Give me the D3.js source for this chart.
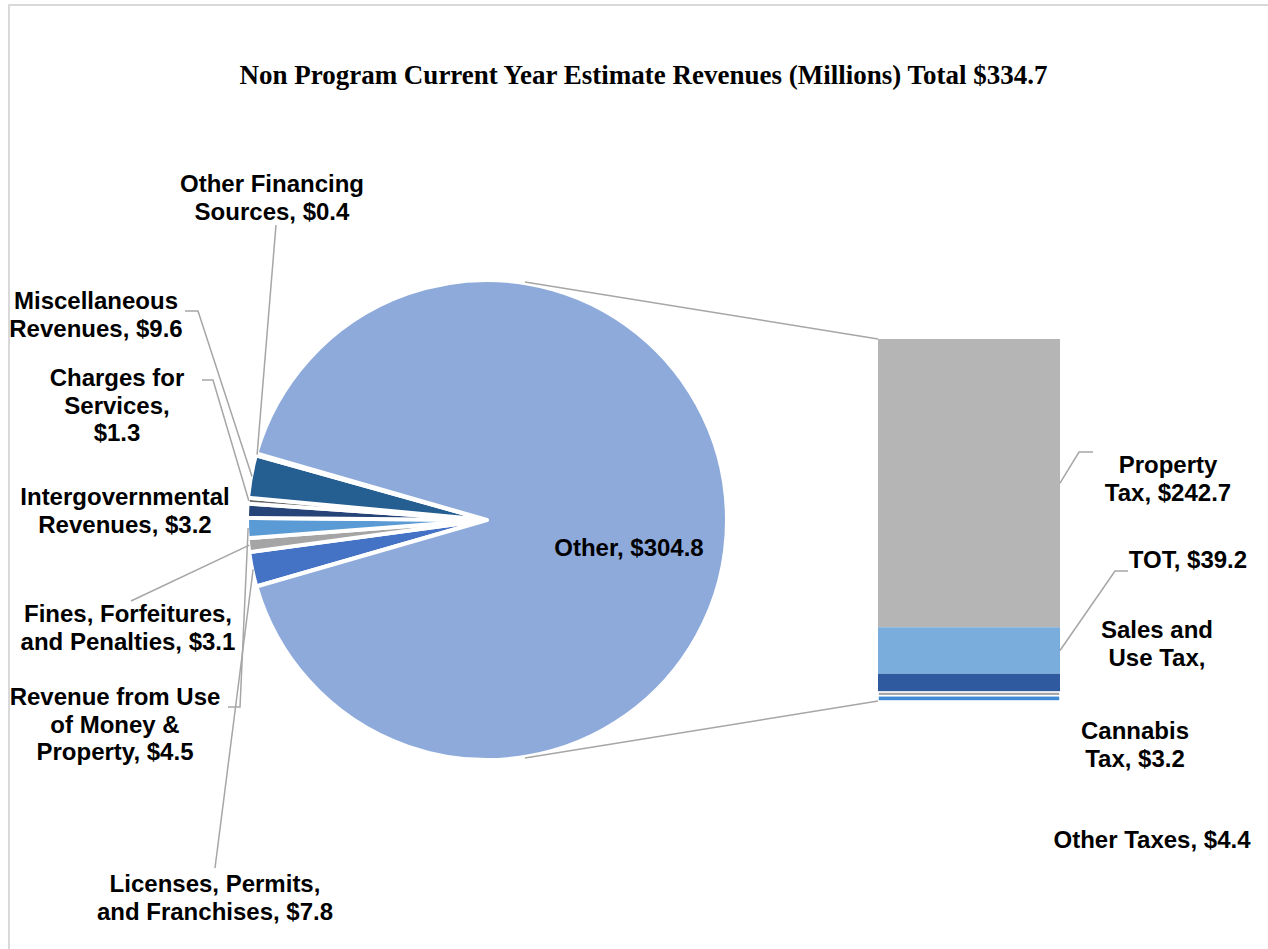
<!DOCTYPE html>
<html>
<head>
<meta charset="utf-8">
<script src="https://cdn.jsdelivr.net/npm/d3@7"></script>
<style>
  html, body { margin: 0; padding: 0; background: #fff; }
  svg { display: block; }
  .lbl { font-family: "Liberation Sans", Arial, sans-serif; font-weight: bold; font-size: 24px; fill: #000; }
  .title { font-family: "Liberation Serif", "Times New Roman", serif; font-weight: bold; font-size: 27px; fill: #000; }
</style>
</head>
<body>
<script>
// Non-program revenues, millions of dollars
const pieCategories = ["Licenses, Permits, and Franchises", "Fines, Forfeitures, and Penalties",
  "Revenue from Use of Money & Property", "Intergovernmental Revenues", "Charges for Services",
  "Miscellaneous Revenues", "Other Financing Sources"];
const pieValues = [7.8, 3.1, 4.5, 3.2, 1.3, 9.6, 0.4];
const pieColors = ["#4472c4", "#a5a5a5", "#5b9bd5", "#264478", "#636363", "#255e91", "#7f6000"];

// The "Other" slice is broken out into taxes in the stacked bar
const otherLabel = "Other";
const otherColor = "#8eaadb";
const barCategories = ["Property Tax", "TOT", "Sales and Use Tax", "Cannabis Tax", "Other Taxes"];
const barValues = [242.7, 39.2, 15.3, 3.2, 4.4];
const barColors = ["#b5b5b5", "#7aaddc", "#2f5a9f", "#a5a5a5", "#3e8ad6"];

const titleText = "Non Program Current Year Estimate Revenues (Millions) Total $334.7";

// Label text lines, in the same order as the categories
const pieLabelLines = [
  ["Licenses, Permits,", "and Franchises, $7.8"],
  ["Fines, Forfeitures,", "and Penalties, $3.1"],
  ["Revenue from Use", "of Money &", "Property, $4.5"],
  ["Intergovernmental", "Revenues, $3.2"],
  ["Charges for", "Services,", "$1.3"],
  ["Miscellaneous", "Revenues, $9.6"],
  ["Other Financing", "Sources, $0.4"]
];
const barLabelLines = [
  ["Property", "Tax, $242.7"],
  ["TOT, $39.2"],
  ["Sales and", "Use Tax,"],
  ["Cannabis", "Tax, $3.2"],
  ["Other Taxes, $4.4"]
];

// ---- layout ----
const W = 1268, H = 949;
const cx = 487, cy = 520, R = 240;
const barX = 878, barW = 182, barTop = 339, barBottom = 701;
const lineH = 27.5;

// label anchor (center of first line) and leader-line elbow points
const pieLabelPos = [
  {x: 215, y: 884, path: [[215, 868]]},
  {x: 128, y: 614, path: [[131, 601]]},
  {x: 115, y: 697, path: [[228, 707], [240, 707]]},
  {x: 125, y: 497, path: null},
  {x: 117, y: 378, path: [[202, 380], [213, 380]]},
  {x: 96, y: 301, path: [[185, 311], [198, 311]]},
  {x: 272, y: 184, path: [[276, 225]]}
];
const barLabelPos = [
  {x: 1168, y: 465, path: [[1093, 452], [1079, 452]]},
  {x: 1188, y: 560, path: [[1128, 571], [1115, 571]]},
  {x: 1157, y: 630, path: null},
  {x: 1135, y: 731, path: null},
  {x: 1152, y: 840, path: null}
];

const svg = d3.select("body").append("svg").attr("width", W).attr("height", H);

// chart frame
svg.append("rect").attr("x", 9).attr("y", 5).attr("width", W + 10).attr("height", H + 10)
  .attr("fill", "none").attr("stroke", "#d9d9d9").attr("stroke-width", 2);

svg.append("text").attr("class", "title").attr("x", 643.5).attr("y", 84)
  .attr("text-anchor", "middle").text(titleText);

// ---- pie ----
const smallTotal = d3.sum(pieValues);
const otherValue = d3.sum(barValues);
const total = smallTotal + otherValue;
const smallSpan = smallTotal / total * 2 * Math.PI;
const startSmall = 1.5 * Math.PI - smallSpan / 2;

const pieData = pieCategories.map((c, i) => ({name: c, value: pieValues[i], color: pieColors[i]}))
  .concat([{name: otherLabel, value: otherValue, color: otherColor}]);

const pie = d3.pie().sort(null).value(d => d.value)
  .startAngle(startSmall).endAngle(startSmall + 2 * Math.PI);
const arcs = pie(pieData);
const arc = d3.arc().innerRadius(0).outerRadius(R);

const g = svg.append("g").attr("transform", `translate(${cx},${cy})`);
g.selectAll("path.slice").data(arcs).join("path")
  .attr("class", "slice")
  .attr("d", arc)
  .attr("fill", d => d.data.color)
  .attr("stroke", "#fff")
  .attr("stroke-width", 4)
  .attr("stroke-linejoin", "round");

// point on the rim at a given angle (d3 convention: 0 at 12 o'clock, clockwise)
const rim = (a, r) => [cx + r * Math.sin(a), cy - r * Math.cos(a)];

// leader lines for the small slices
const leader = d3.line();
arcs.slice(0, pieCategories.length).forEach((a, i) => {
  const pos = pieLabelPos[i];
  if (!pos.path) return;
  const mid = (a.startAngle + a.endAngle) / 2;
  const pts = pos.path.concat([rim(mid, R - 1)]);
  svg.append("path").attr("d", leader(pts)).attr("fill", "none")
    .attr("stroke", "#a6a6a6").attr("stroke-width", 1.5);
});

// multi-line centred labels
function drawLines(x, y, lines) {
  const t = svg.append("text").attr("class", "lbl").attr("text-anchor", "middle");
  lines.forEach((s, k) => {
    t.append("tspan").attr("x", x).attr("y", y + k * lineH).attr("dy", "0.35em").text(s);
  });
}
pieLabelLines.forEach((lines, i) => drawLines(pieLabelPos[i].x, pieLabelPos[i].y, lines));

// label inside the "Other" slice
const otherArc = arcs[arcs.length - 1];
drawLines(629, 548, [`${otherLabel}, $${otherArc.data.value.toFixed(1)}`]);

// ---- stacked bar ----
const y = d3.scaleLinear().domain([0, otherValue]).range([barBottom, barTop]);
const stacked = [];
let acc = otherValue;
barValues.forEach((v, i) => {
  stacked.push({name: barCategories[i], top: acc, bottom: acc - v, color: barColors[i]});
  acc -= v;
});

svg.selectAll("rect.seg").data(stacked).join("rect")
  .attr("class", "seg")
  .attr("x", barX)
  .attr("width", barW)
  .attr("y", d => y(d.top))
  .attr("height", d => y(d.bottom) - y(d.top))
  .attr("fill", d => d.color)
  .attr("stroke", (d, i) => i >= 3 ? "#fff" : "none")
  .attr("stroke-width", 1.6);

// connector lines from the "Other" slice to the bar
const topPt = rim(0.158, R + 1);
const botPt = rim(Math.PI - 0.158, R + 1);
svg.append("path").attr("d", leader([topPt, [barX, y(otherValue)]]))
  .attr("fill", "none").attr("stroke", "#a6a6a6").attr("stroke-width", 1.5);
svg.append("path").attr("d", leader([botPt, [barX, y(0)]]))
  .attr("fill", "none").attr("stroke", "#a6a6a6").attr("stroke-width", 1.5);

// bar leader lines and labels
stacked.forEach((s, i) => {
  const pos = barLabelPos[i];
  if (pos.path) {
    const mid = (y(s.top) + y(s.bottom)) / 2;
    const pts = pos.path.concat([[barX + barW, mid]]);
    svg.append("path").attr("d", leader(pts)).attr("fill", "none")
      .attr("stroke", "#a6a6a6").attr("stroke-width", 1.5);
  }
  drawLines(pos.x, pos.y, barLabelLines[i]);
});
</script>
</body>
</html>
